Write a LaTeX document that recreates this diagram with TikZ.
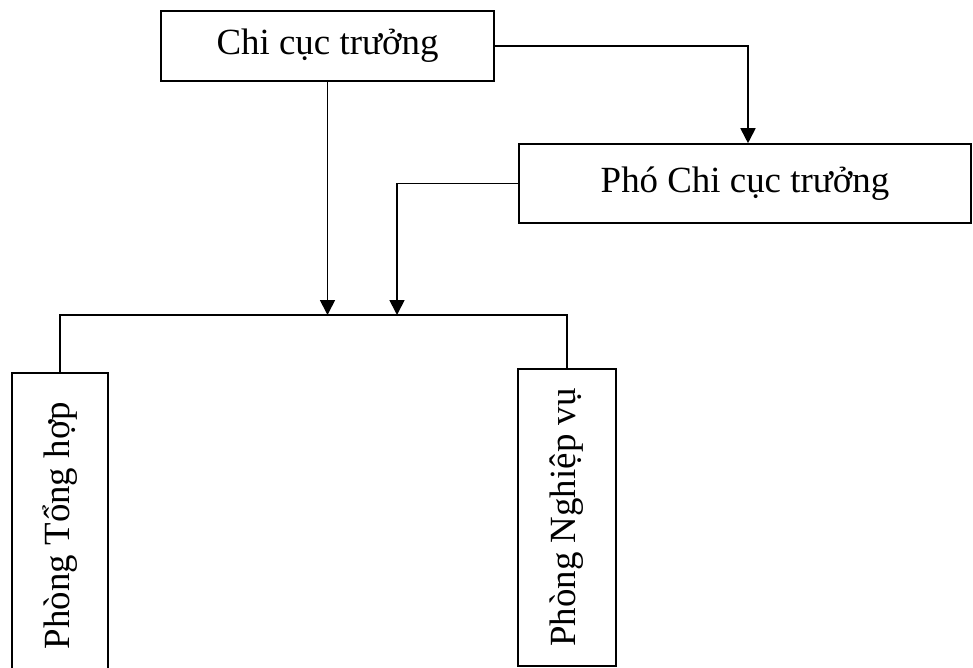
\documentclass[tikz,border=0pt]{standalone}
\usepackage{fontspec}
\setmainfont{Liberation Serif}
\usetikzlibrary{arrows.meta, positioning}

\begin{document}
\begin{tikzpicture}[
    x=0.02cm, y=-0.02cm,
    box/.style={draw, line width=0.9pt, inner sep=0pt,
                font=\fontsize{21}{25}\selectfont, text centered},
    link/.style={line width=1pt},
    >={Triangle[length=0.3cm, width=0.3cm]}
  ]
  \useasboundingbox (0,0) rectangle (973,668);

  % leaders
  \node[box, minimum width=6.66cm, minimum height=1.4cm] (chief) at (327.5, 46) {Chi cục trưởng};
  \node[box, minimum width=9.04cm, minimum height=1.58cm] (deputy) at (745, 183.5) {Phó Chi cục trưởng};

  % departments (left one runs off the page)
  \node[box, rotate=90, minimum width=6.1cm, minimum height=1.92cm] (general) at (60, 525.5) {Phòng Tổng hợp};
  \node[box, rotate=90, minimum width=5.94cm, minimum height=1.96cm] (affairs) at (567, 517.5) {Phòng Nghiệp vụ};

  \coordinate (barL) at (60, 315);
  \coordinate (barR) at (567, 315);
  \coordinate (hitA) at (327.5, 315);
  \coordinate (hitB) at (397, 315);
  \coordinate (drop) at (748, 46);

  \draw[link] (general.east) -- (barL) -- (barR) -- (affairs.east);
  \draw[link, ->] (chief.east) -- (drop) -- (drop |- deputy.north);
  \draw[link, ->] (chief.south) -- (hitA);
  \draw[link, ->] (deputy.west) -| (hitB);
\end{tikzpicture}
\end{document}
